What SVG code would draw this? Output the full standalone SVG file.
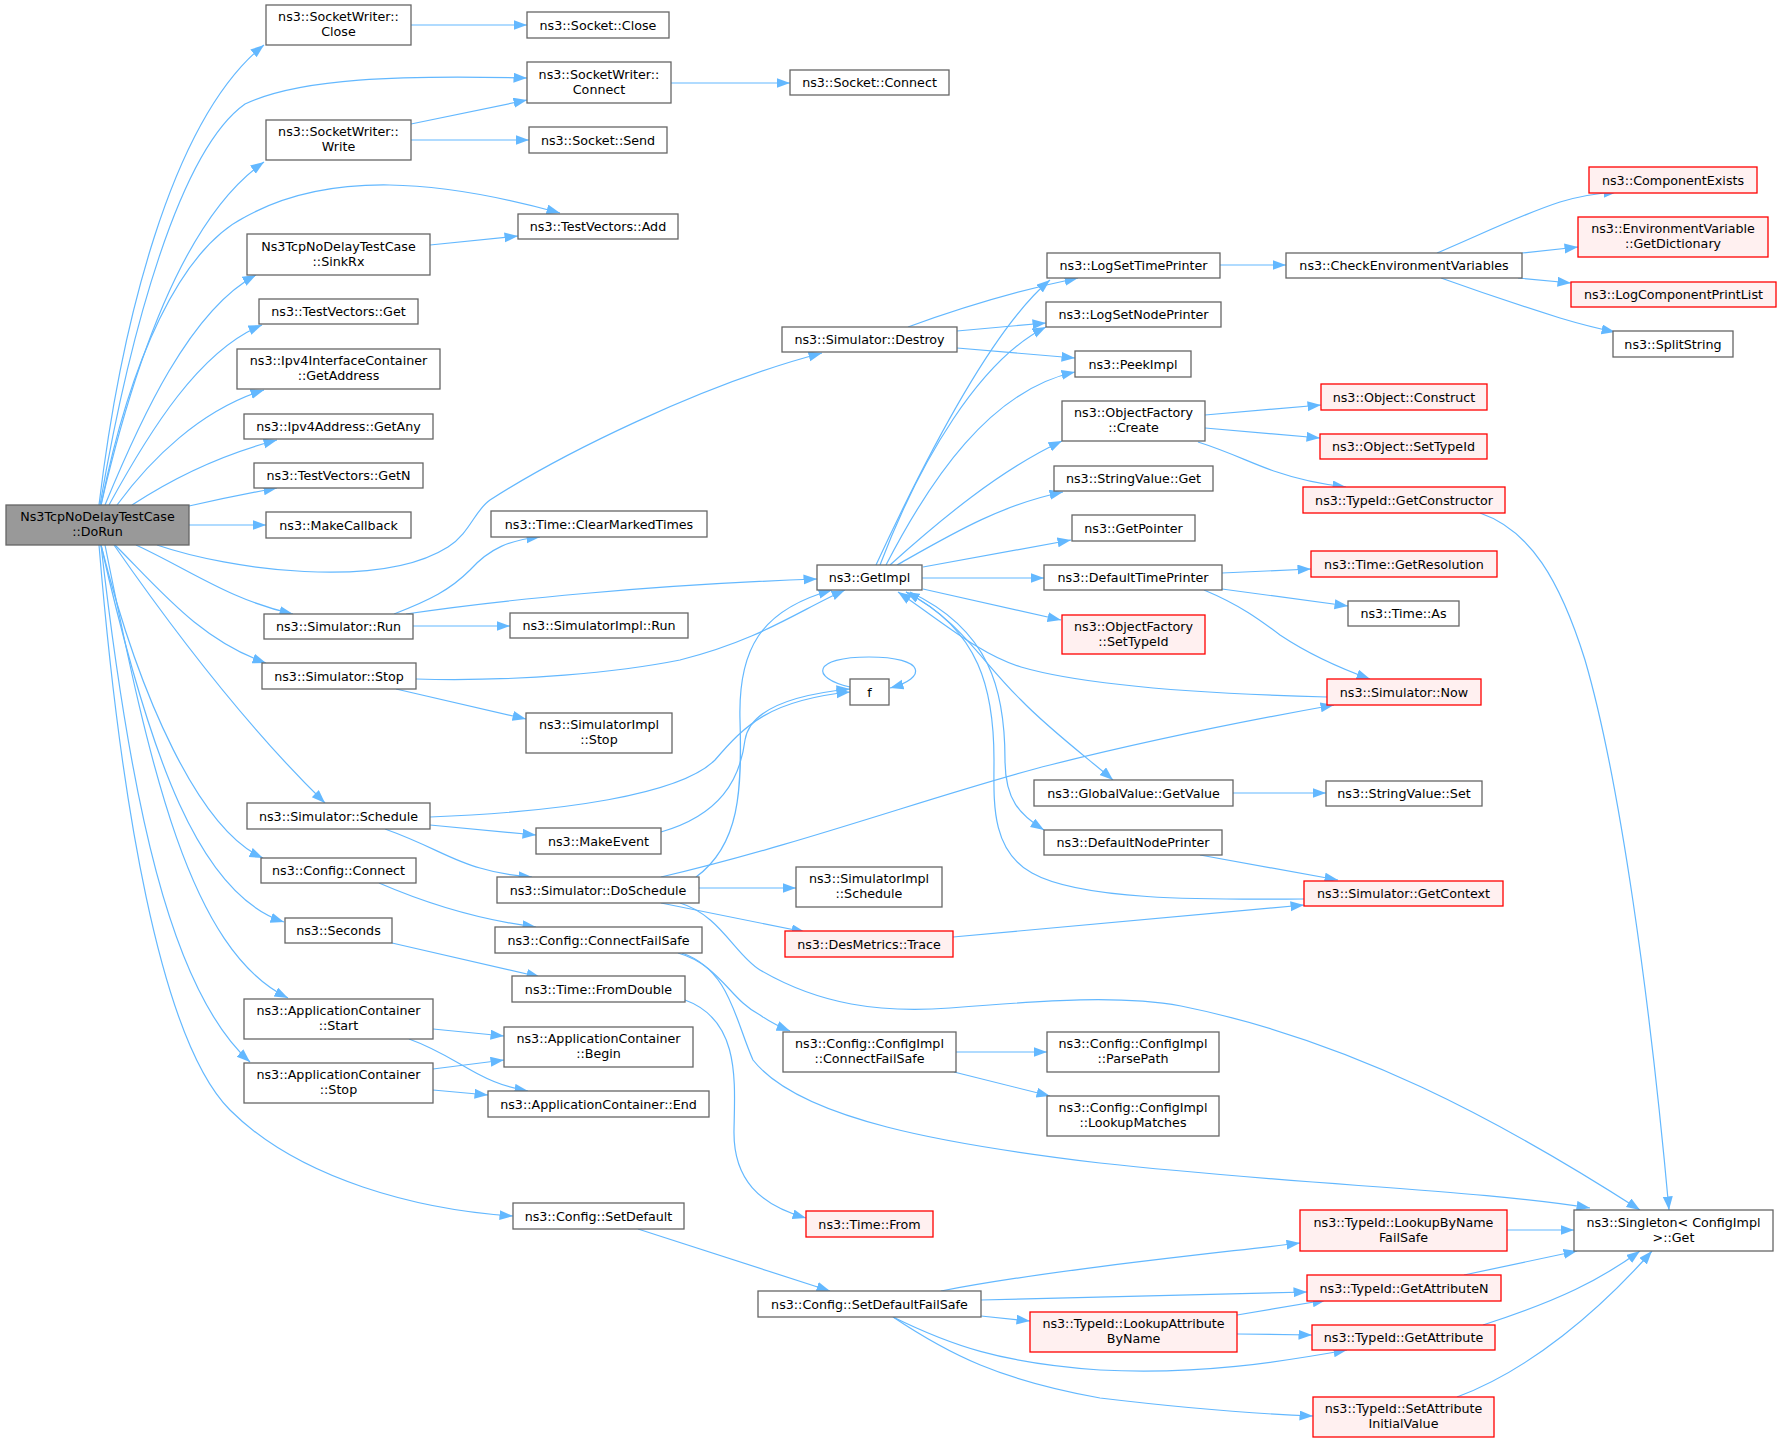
<svg xmlns="http://www.w3.org/2000/svg" width="1781" height="1443" viewBox="0 0 1781 1443">
<style>
.n rect{fill:#fff;stroke:#666;stroke-width:1.3}
.r rect{fill:#fff0f0;stroke:#f00;stroke-width:1.3}
.root rect{fill:#999;stroke:#666;stroke-width:1.3}
text{font-family:"DejaVu Sans","Liberation Sans",sans-serif;font-size:12.7px;text-anchor:middle;fill:#000}
#edges path{fill:none;stroke:#63b8ff;stroke-width:1.2;marker-end:url(#a)}
</style>
<defs>
<marker id="a" markerWidth="15" markerHeight="11" refX="13.5" refY="5" orient="auto" markerUnits="userSpaceOnUse"><path d="M0,0 L13.5,5 L0,10 z" fill="#63b8ff" stroke="none"/></marker>
</defs>
<rect width="1781" height="1443" fill="#fff"/>
<g id="edges">
<path d="M99,505 C120,330 170,120 264,45"/>
<path d="M100,505 C130,330 180,150 245,104 C300,78 400,75 527,78"/>
<path d="M101,505 C130,380 180,220 264,162"/>
<path d="M101,505 C130,360 180,250 245,217 C330,170 440,180 560,213"/>
<path d="M105,505 C140,420 190,310 256,275"/>
<path d="M109,505 C150,430 200,350 262,325"/>
<path d="M117,505 C150,460 200,410 264,390"/>
<path d="M132,505 C170,480 220,455 277,440"/>
<path d="M189,506 C220,499 250,493 277,488"/>
<path d="M189,525 L266,525"/>
<path d="M157,545 C230,570 380,590 448,547 C470,533 475,510 490,500 C560,455 700,385 822,353"/>
<path d="M136,545 C190,570 230,600 293,614"/>
<path d="M115,545 C160,590 200,640 266,663"/>
<path d="M114,545 C180,640 250,730 325,803"/>
<path d="M101,545 C140,700 200,830 263,858"/>
<path d="M101,545 C150,760 200,895 284,922"/>
<path d="M105,545 C150,770 190,950 288,998"/>
<path d="M101,545 C130,800 170,990 250,1062"/>
<path d="M99,545 C120,800 160,1040 230,1110 C300,1180 420,1210 513,1216"/>
<path d="M411,25 L527,25"/>
<path d="M671,83 L790,83"/>
<path d="M411,124 L527,100"/>
<path d="M411,140 L529,140"/>
<path d="M430,245 L518,236"/>
<path d="M394,614 C430,600 450,590 470,570 C490,548 510,540 540,537"/>
<path d="M406,614 C500,600 650,585 817,579"/>
<path d="M413,626 L510,626"/>
<path d="M416,679 C520,682 620,672 680,660 C760,640 800,610 845,590"/>
<path d="M396,689 L526,719"/>
<path d="M430,817 C560,812 680,795 715,760 C745,725 770,700 850,692"/>
<path d="M661,832 C720,815 740,780 745,740 C750,710 790,695 850,689"/>
<path d="M430,825 L536,835"/>
<path d="M385,829 C430,845 450,860 480,868 C500,874 515,876 532,877"/>
<path d="M850,687 C810,678 812,657 869,657 C926,657 928,678 890,688"/>
<path d="M696,877 C740,845 742,790 740,720 C738,650 760,610 832,590"/>
<path d="M699,888 L796,888"/>
<path d="M661,903 L805,932"/>
<path d="M661,877 C800,845 950,790 1050,765 C1150,740 1250,720 1334,705"/>
<path d="M680,903 C720,915 735,955 760,970 C820,1005 880,1013 950,1008 C1050,1000 1120,995 1181,1006 C1350,1040 1500,1120 1640,1210"/>
<path d="M678,953 C720,965 730,1000 760,1015 C770,1022 780,1027 790,1031"/>
<path d="M682,953 C730,970 735,1020 753,1060 C800,1120 950,1145 1100,1163 C1300,1185 1480,1190 1590,1208"/>
<path d="M379,883 C430,905 480,920 536,927"/>
<path d="M392,943 L540,977"/>
<path d="M685,1000 C740,1020 735,1080 734,1130 C733,1180 760,1205 806,1218"/>
<path d="M433,1029 L504,1036"/>
<path d="M409,1039 C440,1050 460,1065 480,1075 C495,1083 510,1088 528,1091"/>
<path d="M433,1069 L504,1060"/>
<path d="M433,1090 L488,1095"/>
<path d="M638,1229 L830,1291"/>
<path d="M956,1052 L1047,1052"/>
<path d="M954,1072 L1050,1096"/>
<path d="M941,1291 C1050,1270 1200,1255 1300,1243"/>
<path d="M981,1300 L1307,1292"/>
<path d="M981,1316 L1030,1321"/>
<path d="M893,1317 C950,1345 1000,1363 1100,1370 C1200,1375 1280,1362 1347,1350"/>
<path d="M893,1317 C950,1355 1000,1380 1100,1398 C1200,1410 1260,1414 1313,1416"/>
<path d="M1237,1315 L1326,1300"/>
<path d="M1237,1334 L1312,1335"/>
<path d="M1507,1230 L1574,1230"/>
<path d="M1464,1275 L1577,1251"/>
<path d="M1483,1325 C1560,1300 1600,1280 1640,1251"/>
<path d="M1457,1397 C1530,1370 1600,1310 1652,1251"/>
<path d="M1480,513 C1530,530 1560,580 1585,660 C1620,780 1650,1000 1669,1210"/>
<path d="M908,327 C960,308 1020,290 1078,278"/>
<path d="M957,331 L1046,323"/>
<path d="M957,348 L1075,358"/>
<path d="M876,565 C920,470 990,330 1050,280"/>
<path d="M880,565 C920,460 980,360 1046,327"/>
<path d="M886,565 C930,480 990,390 1075,372"/>
<path d="M890,565 C940,520 1000,470 1062,441"/>
<path d="M897,565 C950,535 1000,505 1063,492"/>
<path d="M923,567 L1071,540"/>
<path d="M922,578 L1044,578"/>
<path d="M923,589 L1061,620"/>
<path d="M906,592 C960,620 980,660 1021,700 C1050,730 1090,760 1113,780"/>
<path d="M910,592 C990,630 1005,690 1005,760 C1005,800 1020,815 1044,830"/>
<path d="M1222,573 L1311,569"/>
<path d="M1222,589 L1348,606"/>
<path d="M1204,590 C1240,605 1260,620 1280,635 C1310,655 1345,670 1370,679"/>
<path d="M1327,697 C1250,695 1100,690 1021,667 C980,655 940,620 898,592"/>
<path d="M1233,793 L1326,793"/>
<path d="M1200,855 L1338,880"/>
<path d="M1304,899 C1200,900 1080,900 1032,873 C990,850 994,800 994,760 C994,690 980,630 906,592"/>
<path d="M953,937 L1304,905"/>
<path d="M1205,415 L1321,405"/>
<path d="M1205,428 L1320,438"/>
<path d="M1198,442 C1230,452 1255,465 1277,472 C1300,480 1320,484 1346,487"/>
<path d="M1220,265 L1286,265"/>
<path d="M1437,253 C1480,235 1520,215 1560,202 C1580,196 1600,193 1617,192"/>
<path d="M1522,253 L1578,247"/>
<path d="M1518,278 L1571,283"/>
<path d="M1441,278 C1480,292 1525,307 1560,318 C1580,324 1600,329 1615,332"/>
</g>
<g id="DoRun" class="root"><rect x="6" y="505" width="183" height="40"/><text x="97.5" y="521">Ns3TcpNoDelayTestCase</text><text x="97.5" y="536">::DoRun</text></g>
<g id="SW_Close" class="n"><rect x="266" y="5" width="145" height="40"/><text x="338.5" y="21">ns3::SocketWriter::</text><text x="338.5" y="36">Close</text></g>
<g id="Socket_Close" class="n"><rect x="527" y="12" width="142" height="26"/><text x="598" y="29.5">ns3::Socket::Close</text></g>
<g id="SW_Connect" class="n"><rect x="527" y="62" width="144" height="41"/><text x="599" y="78.5">ns3::SocketWriter::</text><text x="599" y="93.5">Connect</text></g>
<g id="Socket_Connect" class="n"><rect x="790" y="70" width="159" height="25"/><text x="869.5" y="87">ns3::Socket::Connect</text></g>
<g id="SW_Write" class="n"><rect x="266" y="120" width="145" height="40"/><text x="338.5" y="136">ns3::SocketWriter::</text><text x="338.5" y="151">Write</text></g>
<g id="Socket_Send" class="n"><rect x="529" y="127" width="138" height="26"/><text x="598" y="144.5">ns3::Socket::Send</text></g>
<g id="TV_Add" class="n"><rect x="518" y="214" width="160" height="25"/><text x="598" y="231">ns3::TestVectors::Add</text></g>
<g id="SinkRx" class="n"><rect x="247" y="234" width="183" height="41"/><text x="338.5" y="250.5">Ns3TcpNoDelayTestCase</text><text x="338.5" y="265.5">::SinkRx</text></g>
<g id="TV_Get" class="n"><rect x="259" y="299" width="159" height="25"/><text x="338.5" y="316">ns3::TestVectors::Get</text></g>
<g id="GetAddress" class="n"><rect x="237" y="349" width="203" height="40"/><text x="338.5" y="365">ns3::Ipv4InterfaceContainer</text><text x="338.5" y="380">::GetAddress</text></g>
<g id="GetAny" class="n"><rect x="244" y="414" width="189" height="25"/><text x="338.5" y="431">ns3::Ipv4Address::GetAny</text></g>
<g id="GetN" class="n"><rect x="254" y="463" width="169" height="25"/><text x="338.5" y="480">ns3::TestVectors::GetN</text></g>
<g id="MakeCallback" class="n"><rect x="266" y="512" width="145" height="26"/><text x="338.5" y="529.5">ns3::MakeCallback</text></g>
<g id="ClearMarkedTimes" class="n"><rect x="491" y="511" width="216" height="26"/><text x="599" y="528.5">ns3::Time::ClearMarkedTimes</text></g>
<g id="Sim_Run" class="n"><rect x="264" y="614" width="149" height="25"/><text x="338.5" y="631">ns3::Simulator::Run</text></g>
<g id="SimImpl_Run" class="n"><rect x="510" y="613" width="178" height="25"/><text x="599" y="630">ns3::SimulatorImpl::Run</text></g>
<g id="Sim_Stop" class="n"><rect x="262" y="663" width="154" height="26"/><text x="339" y="680.5">ns3::Simulator::Stop</text></g>
<g id="SimImpl_Stop" class="n"><rect x="526" y="713" width="146" height="40"/><text x="599" y="729">ns3::SimulatorImpl</text><text x="599" y="744">::Stop</text></g>
<g id="Sim_Schedule" class="n"><rect x="247" y="803" width="183" height="26"/><text x="338.5" y="820.5">ns3::Simulator::Schedule</text></g>
<g id="MakeEvent" class="n"><rect x="536" y="828" width="125" height="26"/><text x="598.5" y="845.5">ns3::MakeEvent</text></g>
<g id="DoSchedule" class="n"><rect x="497" y="877" width="202" height="26"/><text x="598" y="894.5">ns3::Simulator::DoSchedule</text></g>
<g id="Config_Connect" class="n"><rect x="261" y="858" width="155" height="25"/><text x="338.5" y="875">ns3::Config::Connect</text></g>
<g id="Seconds" class="n"><rect x="285" y="918" width="107" height="25"/><text x="338.5" y="935">ns3::Seconds</text></g>
<g id="Config_CFS" class="n"><rect x="495" y="927" width="207" height="26"/><text x="598.5" y="944.5">ns3::Config::ConnectFailSafe</text></g>
<g id="FromDouble" class="n"><rect x="512" y="976" width="173" height="26"/><text x="598.5" y="993.5">ns3::Time::FromDouble</text></g>
<g id="AC_Start" class="n"><rect x="244" y="999" width="189" height="40"/><text x="338.5" y="1015">ns3::ApplicationContainer</text><text x="338.5" y="1030">::Start</text></g>
<g id="AC_Begin" class="n"><rect x="504" y="1027" width="189" height="40"/><text x="598.5" y="1043">ns3::ApplicationContainer</text><text x="598.5" y="1058">::Begin</text></g>
<g id="AC_Stop" class="n"><rect x="244" y="1063" width="189" height="40"/><text x="338.5" y="1079">ns3::ApplicationContainer</text><text x="338.5" y="1094">::Stop</text></g>
<g id="AC_End" class="n"><rect x="488" y="1091" width="221" height="26"/><text x="598.5" y="1108.5">ns3::ApplicationContainer::End</text></g>
<g id="SetDefault" class="n"><rect x="513" y="1203" width="171" height="26"/><text x="598.5" y="1220.5">ns3::Config::SetDefault</text></g>
<g id="CI_CFS" class="n"><rect x="783" y="1032" width="173" height="40"/><text x="869.5" y="1048">ns3::Config::ConfigImpl</text><text x="869.5" y="1063">::ConnectFailSafe</text></g>
<g id="ParsePath" class="n"><rect x="1047" y="1032" width="172" height="40"/><text x="1133" y="1048">ns3::Config::ConfigImpl</text><text x="1133" y="1063">::ParsePath</text></g>
<g id="LookupMatches" class="n"><rect x="1047" y="1096" width="172" height="40"/><text x="1133" y="1112">ns3::Config::ConfigImpl</text><text x="1133" y="1127">::LookupMatches</text></g>
<g id="Time_From" class="r"><rect x="806" y="1211" width="127" height="26"/><text x="869.5" y="1228.5">ns3::Time::From</text></g>
<g id="SDFS" class="n"><rect x="758" y="1291" width="223" height="26"/><text x="869.5" y="1308.5">ns3::Config::SetDefaultFailSafe</text></g>
<g id="LookupAttrByName" class="r"><rect x="1030" y="1312" width="207" height="40"/><text x="1133.5" y="1328">ns3::TypeId::LookupAttribute</text><text x="1133.5" y="1343">ByName</text></g>
<g id="Singleton" class="n"><rect x="1574" y="1210" width="199" height="41"/><text x="1673.5" y="1226.5">ns3::Singleton&lt; ConfigImpl</text><text x="1673.5" y="1241.5">&gt;::Get</text></g>
<g id="LookupByNameFS" class="r"><rect x="1300" y="1210" width="207" height="41"/><text x="1403.5" y="1226.5">ns3::TypeId::LookupByName</text><text x="1403.5" y="1241.5">FailSafe</text></g>
<g id="GetAttributeN" class="r"><rect x="1307" y="1275" width="194" height="26"/><text x="1404" y="1292.5">ns3::TypeId::GetAttributeN</text></g>
<g id="GetAttribute" class="r"><rect x="1312" y="1325" width="183" height="25"/><text x="1403.5" y="1342">ns3::TypeId::GetAttribute</text></g>
<g id="SetAttrInit" class="r"><rect x="1313" y="1397" width="181" height="40"/><text x="1403.5" y="1413">ns3::TypeId::SetAttribute</text><text x="1403.5" y="1428">InitialValue</text></g>
<g id="DesTrace" class="r"><rect x="785" y="931" width="168" height="26"/><text x="869" y="948.5">ns3::DesMetrics::Trace</text></g>
<g id="GetImpl" class="n"><rect x="817" y="565" width="105" height="25"/><text x="869.5" y="582">ns3::GetImpl</text></g>
<g id="GetPointer" class="n"><rect x="1072" y="515" width="123" height="26"/><text x="1133.5" y="532.5">ns3::GetPointer</text></g>
<g id="DefaultTimePrinter" class="n"><rect x="1044" y="565" width="178" height="25"/><text x="1133" y="582">ns3::DefaultTimePrinter</text></g>
<g id="OF_SetTypeId" class="r"><rect x="1062" y="615" width="143" height="39"/><text x="1133.5" y="630.5">ns3::ObjectFactory</text><text x="1133.5" y="645.5">::SetTypeId</text></g>
<g id="f" class="n"><rect x="850" y="679" width="39" height="26"/><text x="869.5" y="696.5">f</text></g>
<g id="GlobalValue" class="n"><rect x="1034" y="780" width="199" height="26"/><text x="1133.5" y="797.5">ns3::GlobalValue::GetValue</text></g>
<g id="DefaultNodePrinter" class="n"><rect x="1044" y="830" width="178" height="25"/><text x="1133" y="847">ns3::DefaultNodePrinter</text></g>
<g id="SimImpl_Schedule" class="n"><rect x="796" y="867" width="146" height="40"/><text x="869" y="883">ns3::SimulatorImpl</text><text x="869" y="898">::Schedule</text></g>
<g id="GetConstructor" class="r"><rect x="1303" y="487" width="202" height="26"/><text x="1404" y="504.5">ns3::TypeId::GetConstructor</text></g>
<g id="GetResolution" class="r"><rect x="1311" y="551" width="186" height="26"/><text x="1404" y="568.5">ns3::Time::GetResolution</text></g>
<g id="Time_As" class="n"><rect x="1348" y="601" width="111" height="25"/><text x="1403.5" y="618">ns3::Time::As</text></g>
<g id="Sim_Now" class="r"><rect x="1327" y="679" width="154" height="26"/><text x="1404" y="696.5">ns3::Simulator::Now</text></g>
<g id="StringValue_Set" class="n"><rect x="1326" y="781" width="156" height="25"/><text x="1404" y="798">ns3::StringValue::Set</text></g>
<g id="GetContext" class="r"><rect x="1304" y="881" width="199" height="25"/><text x="1403.5" y="898">ns3::Simulator::GetContext</text></g>
<g id="Sim_Destroy" class="n"><rect x="782" y="327" width="175" height="25"/><text x="869.5" y="344">ns3::Simulator::Destroy</text></g>
<g id="LogSetTimePrinter" class="n"><rect x="1047" y="253" width="173" height="25"/><text x="1133.5" y="270">ns3::LogSetTimePrinter</text></g>
<g id="LogSetNodePrinter" class="n"><rect x="1046" y="302" width="175" height="25"/><text x="1133.5" y="319">ns3::LogSetNodePrinter</text></g>
<g id="PeekImpl" class="n"><rect x="1075" y="351" width="116" height="26"/><text x="1133" y="368.5">ns3::PeekImpl</text></g>
<g id="OF_Create" class="n"><rect x="1062" y="401" width="143" height="40"/><text x="1133.5" y="417">ns3::ObjectFactory</text><text x="1133.5" y="432">::Create</text></g>
<g id="StringValue_Get" class="n"><rect x="1054" y="466" width="159" height="25"/><text x="1133.5" y="483">ns3::StringValue::Get</text></g>
<g id="CheckEnv" class="n"><rect x="1286" y="253" width="236" height="25"/><text x="1404" y="270">ns3::CheckEnvironmentVariables</text></g>
<g id="ComponentExists" class="r"><rect x="1589" y="167" width="168" height="26"/><text x="1673" y="184.5">ns3::ComponentExists</text></g>
<g id="GetDictionary" class="r"><rect x="1578" y="217" width="190" height="40"/><text x="1673" y="233">ns3::EnvironmentVariable</text><text x="1673" y="248">::GetDictionary</text></g>
<g id="LogComponentPrintList" class="r"><rect x="1571" y="282" width="205" height="25"/><text x="1673.5" y="299">ns3::LogComponentPrintList</text></g>
<g id="SplitString" class="n"><rect x="1613" y="331" width="120" height="26"/><text x="1673" y="348.5">ns3::SplitString</text></g>
<g id="Object_Construct" class="r"><rect x="1321" y="384" width="166" height="26"/><text x="1404" y="401.5">ns3::Object::Construct</text></g>
<g id="Object_SetTypeId" class="r"><rect x="1320" y="434" width="167" height="25"/><text x="1403.5" y="451">ns3::Object::SetTypeId</text></g>
</svg>
